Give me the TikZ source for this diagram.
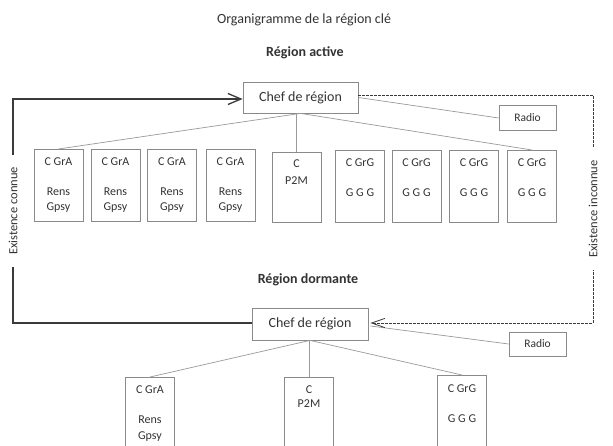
\documentclass[tikz,border=0pt]{standalone}
\usepackage{fontspec}
\setmainfont{Carlito}
\usetikzlibrary{arrows.meta,calc}
\definecolor{txt}{HTML}{333333}
\definecolor{boxc}{HTML}{8A8A8A}
\definecolor{linec}{HTML}{9A9A9A}
\definecolor{dark}{HTML}{3A3A3A}
\begin{document}
\begin{tikzpicture}[x=1pt,y=-1pt,
  unit/.style={draw=boxc, line width=0.8pt, minimum width=49pt, minimum height=72pt, inner sep=0pt, anchor=north},
  unitp/.style={unit, minimum height=70pt},
  chefbox/.style={draw=boxc, line width=0.8pt, minimum width=115pt, minimum height=31pt, inner sep=0pt, font=\fontsize{14}{16}\selectfont, text=txt},
  radiobox/.style={draw=boxc, line width=0.8pt, minimum width=57pt, minimum height=25pt, inner sep=0pt, font=\fontsize{11.5}{13}\selectfont, text=txt},
  lbl/.style={font=\fontsize{12}{14}\selectfont, text=txt, inner sep=0pt},
  head/.style={font=\bfseries\fontsize{14}{16}\selectfont, text=txt, inner sep=0pt},
  conn/.style={draw=linec, line width=0.7pt},
  known/.style={draw=dark, line width=1.5pt, -{Straight Barb[length=13pt,width=11pt,line width=1.3pt]}},
  unknown/.style={draw=dark, line width=0.8pt, dash pattern=on 2.5pt off 1.5pt, -{Straight Barb[length=13pt,width=9pt,line width=0.8pt,line cap=round]}},
  side/.style={font=\fontsize{12.5}{14}\selectfont, text=txt, rotate=90, fill=white, inner xsep=12pt, inner ysep=2pt}
]
\clip (0,0) rectangle (613,446);
\fill[white] (0,0) rectangle (613,446);

% titles
\node[font=\fontsize{14}{16}\selectfont, text=txt, inner sep=0pt] (title) at (304,20) {Organigramme de la région clé};
\node[head] (active) at (305,53) {Région active};
\node[head] (dormante) at (308,280) {Région dormante};

% active region
\node[chefbox] (chefA) at (300.5,97.5) {Chef de région};
\node[radiobox] (radioA) at (527.5,118) {Radio};

\foreach \i/\x in {1/58.5, 2/115.5, 3/172, 4/230.5} {
  \node[unit] (a\i) at (\x,149) {};
  \node[lbl] (a\i c) at ($(a\i.north)+(0,13)$) {C GrA};
  \node[lbl] (a\i r) at ($(a\i.north)+(0,43)$) {Rens};
  \node[lbl] (a\i g) at ($(a\i.north)+(0,59)$) {Gpsy};
}
\node[unitp] (a5) at (296.5,152) {};
\node[lbl] (a5c) at ($(a5.north)+(0,12)$) {C};
\node[lbl] (a5p) at ($(a5.north)+(0,29)$) {P2M};
\foreach \i/\x in {6/360, 7/416.5, 8/474, 9/532} {
  \node[unit] (a\i) at (\x,150) {};
  \node[lbl] (a\i c) at ($(a\i.north)+(0,13)$) {C GrG};
  \node[lbl] (a\i g) at ($(a\i.north)+(0,43)$) {G G G};
}

\draw[conn] (chefA.south) -- (a1.north);
\draw[conn] (a5.north) -- (a5.north |- chefA.south);
\draw[conn] (chefA.south) -- (a9.north);
\draw[conn] (chefA.east) -- (radioA.west);

% dormant region
\node[chefbox, minimum width=116pt, minimum height=32pt] (chefB) at (310,324) {Chef de région};
\node[radiobox, minimum height=24pt] (radioB) at (537.5,344) {Radio};

\node[unit] (b1) at (150,377) {};
\node[lbl] (b1c) at ($(b1.north)+(0,13)$) {C GrA};
\node[lbl] (b1r) at ($(b1.north)+(0,43)$) {Rens};
\node[lbl] (b1g) at ($(b1.north)+(0,60)$) {Gpsy};
\node[unit] (b2) at (309,377) {};
\node[lbl] (b2c) at ($(b2.north)+(0,13)$) {C};
\node[lbl] (b2p) at ($(b2.north)+(0,27)$) {P2M};
\node[unit] (b3) at (462,375) {};
\node[lbl] (b3c) at ($(b3.north)+(0,14)$) {C GrG};
\node[lbl] (b3g) at ($(b3.north)+(0,44)$) {G G G};

\draw[conn] (chefB.south) -- (b1.north);
\draw[conn] (b2.north) -- (b2.north |- chefB.south);
\draw[conn] (chefB.south) -- (b3.north);
\draw[conn] (radioB.west) -- ($(chefB.east)+(2,2)$);

% existence paths
\coordinate (kB) at (13,323);
\coordinate (kT) at (13,99);
\draw[known] ($(chefB.west)+(0,-1)$) -- (kB) -- node[side] (conn) {Existence connue} (kT) -- (kT -| chefA.west);

\coordinate (uT) at (593,95);
\coordinate (uB) at (593,323);
\draw[unknown] ($(chefA.east)+(0,-2.5)$) -- (uT) -- node[side] (inconn) {Existence inconnue} (uB) -- ($(chefB.east)+(2,-1)$);
\end{tikzpicture}
\end{document}
